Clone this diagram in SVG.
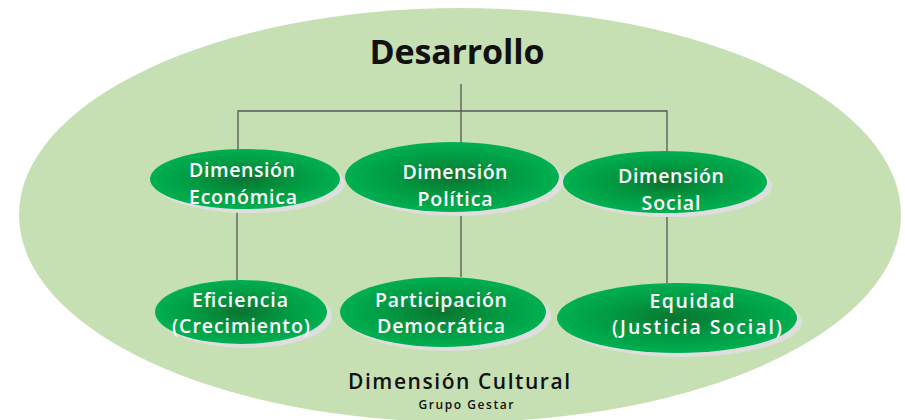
<svg xmlns="http://www.w3.org/2000/svg" width="905" height="420" viewBox="0 0 905 420">
<defs>
<radialGradient id="g" cx="0.5" cy="0.5" r="0.5">
<stop offset="0" stop-color="#0a7430"/>
<stop offset="0.55" stop-color="#019a42"/>
<stop offset="1" stop-color="#00b050"/>
</radialGradient>
<style>
.sh{fill:#dedede}
.nd{fill:url(#g)}
.t{font-family:"Open Sans","DejaVu Sans",sans-serif;font-weight:600;font-size:19.5px;fill:#ffffff;text-anchor:middle}
.k{font-family:"Open Sans","DejaVu Sans",sans-serif;fill:#111;text-anchor:middle}
.c{fill:none;stroke:#555;stroke-width:1.3}
</style>
</defs>
<rect width="905" height="420" fill="#ffffff"/>
<ellipse id="cultural" cx="460" cy="215" rx="441" ry="207" fill="#c6e0b4"/>
<text class="k" x="457" y="64" font-size="34" font-weight="700" textLength="175" lengthAdjust="spacing">Desarrollo</text>
<g id="connectors">
<path class="c" d="M238,150 V111 H667 V152"/>
<path class="c" d="M461,84 V143"/>
<path class="c" d="M237,209 V281"/>
<path class="c" d="M461,212 V277"/>
<path class="c" d="M667,213 V283"/>
</g>
<g id="economica">
<ellipse class="sh" cx="250" cy="183" rx="95" ry="30"/>
<ellipse class="nd" cx="245" cy="179" rx="95" ry="30"/>
<text class="t" x="242" y="177" textLength="106" lengthAdjust="spacing">Dimensión</text>
<text class="t" x="243" y="203.5" textLength="108" lengthAdjust="spacing">Económica</text>
</g>
<g id="politica">
<ellipse class="sh" cx="457" cy="181" rx="107" ry="35"/>
<ellipse class="nd" cx="452" cy="177" rx="107" ry="35"/>
<text class="t" x="455" y="179" textLength="105" lengthAdjust="spacing">Dimensión</text>
<text class="t" x="455" y="205.5" textLength="75" lengthAdjust="spacing">Política</text>
</g>
<g id="social">
<ellipse class="sh" cx="670" cy="186" rx="102" ry="31"/>
<ellipse class="nd" cx="665" cy="182" rx="102" ry="31"/>
<text class="t" x="671" y="183" textLength="106" lengthAdjust="spacing">Dimensión</text>
<text class="t" x="671" y="209.5" textLength="59" lengthAdjust="spacing">Social</text>
</g>
<g id="eficiencia">
<ellipse class="sh" cx="246" cy="316" rx="86" ry="32"/>
<ellipse class="nd" cx="241" cy="312" rx="86" ry="32"/>
<text class="t" x="240" y="306.5" textLength="96" lengthAdjust="spacing">Eficiencia</text>
<text class="t" x="241" y="333" textLength="138" lengthAdjust="spacing">(Crecimiento)</text>
</g>
<g id="participacion">
<ellipse class="sh" cx="448" cy="316" rx="103" ry="35"/>
<ellipse class="nd" cx="443" cy="312" rx="103" ry="35"/>
<text class="t" x="441" y="306.5" textLength="132" lengthAdjust="spacing">Participación</text>
<text class="t" x="441" y="333" textLength="128" lengthAdjust="spacing">Democrática</text>
</g>
<g id="equidad">
<ellipse class="sh" cx="682" cy="322" rx="120" ry="35"/>
<ellipse class="nd" cx="677" cy="318" rx="120" ry="35"/>
<text class="t" x="692" y="307.5" textLength="85" lengthAdjust="spacing">Equidad</text>
<text class="t" x="697" y="334" textLength="170" lengthAdjust="spacing">(Justicia Social)</text>
</g>
<text class="k" x="459" y="389" font-size="21" font-weight="600" textLength="222" lengthAdjust="spacing">Dimensión Cultural</text>
<text class="k" x="466" y="409" font-size="12" font-weight="600" textLength="95" lengthAdjust="spacing">Grupo Gestar</text>
</svg>
